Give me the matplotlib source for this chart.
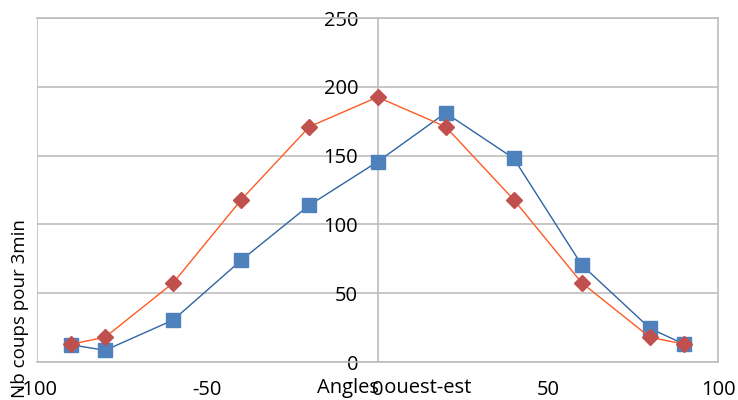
import matplotlib
matplotlib.use("Agg")
import matplotlib.pyplot as plt

# angles (degrés) et nombre de coups pour 3 min
angles = [-90, -80, -60, -40, -20, 0, 20, 40, 60, 80, 90]
serie_bleue = [12.5, 8.5, 30.5, 74, 114, 145.5, 181, 148, 70.5, 24.5, 13]
serie_rouge = [13, 18, 57.5, 118, 171, 192.5, 171, 118, 57.5, 18, 13]

x_ticks = [-100, -50, 0, 50, 100]
y_ticks = [0, 50, 100, 150, 200, 250]

GRIS = "#BDBDBD"

plt.rcParams["font.family"] = ["Open Sans", "DejaVu Sans"]
plt.rcParams["axes.unicode_minus"] = False  # tiret simple comme dans Excel

fig = plt.figure(figsize=(7.38, 4.0), dpi=100)
ax = fig.add_axes([37 / 738, 1 - 362 / 400, 681 / 738, 344 / 400])

ax.plot(angles, serie_bleue, color="#2F64A3", lw=1.0, marker="s", ms=9.5,
        mfc="#4F81BD", mec="#4F81BD", zorder=3)
ax.plot(angles, serie_rouge, color="#FF5A24", lw=1.0, marker="D", ms=8,
        mfc="#C0504D", mec="#C0504D", zorder=4)

ax.set_xlim(-100, 100)
ax.set_ylim(0, 250)
ax.set_xticks(x_ticks)
ax.set_yticks(y_ticks)

# axe vertical au milieu, cadre gris
ax.spines["left"].set_position(("data", 0))
for s in ax.spines.values():
    s.set_color(GRIS)
    s.set_linewidth(1.2)
ax.axvline(-100, color=GRIS, lw=1.2, zorder=1)
ax.yaxis.grid(True, color=GRIS, lw=1.2)
ax.set_axisbelow(True)

ax.tick_params(axis="both", length=0, labelsize=14.5, colors="black")
ax.tick_params(axis="y", pad=14)
ax.tick_params(axis="x", pad=13)

fig.text(394 / 738, 1 - 388 / 400, "Angles ouest-est", ha="center", va="center",
         fontsize=14.5)
fig.text(20 / 738, 1 - 398 / 400, "Nb coups pour 3min", ha="center", va="bottom",
         rotation=90, fontsize=13.5)

fig.savefig("out.png", dpi=100)
